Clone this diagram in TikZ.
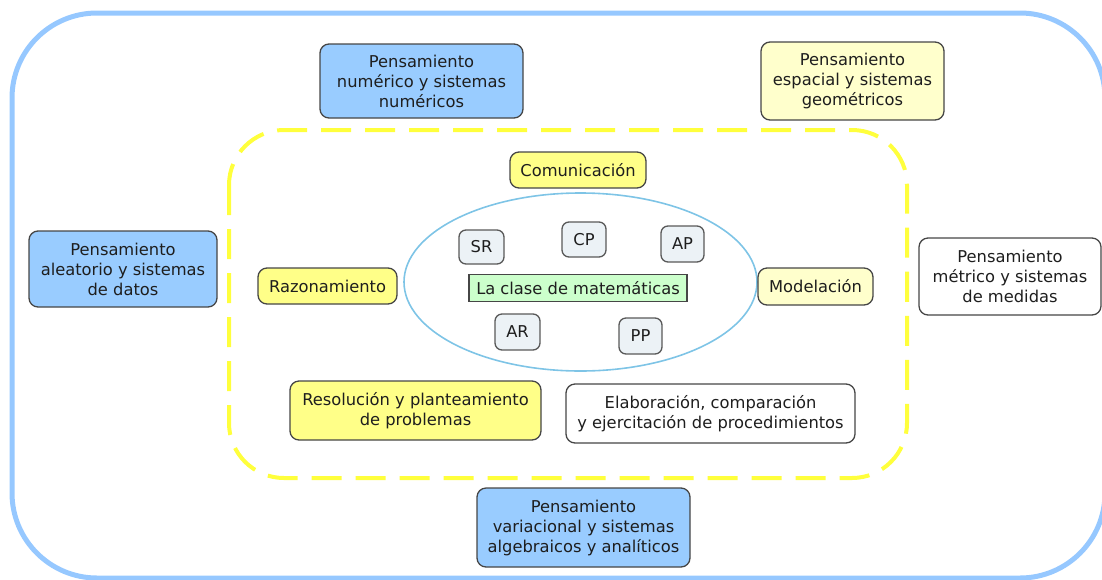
\documentclass[tikz,border=0pt]{standalone}
\usepackage{fontspec}
\setmainfont{DejaVu Sans}
\usetikzlibrary{shapes.geometric}
\definecolor{outerblue}{RGB}{150,200,255}
\definecolor{dashyellow}{RGB}{255,255,60}
\definecolor{fillblue}{RGB}{153,204,255}
\definecolor{fillpale}{RGB}{255,255,204}
\definecolor{fillyellow}{RGB}{255,255,136}
\definecolor{fillgray}{RGB}{236,242,246}
\definecolor{fillgreen}{RGB}{204,255,204}
\definecolor{ellblue}{RGB}{126,196,230}
\definecolor{bordergray}{RGB}{70,70,70}
\definecolor{txt}{RGB}{30,30,30}
\tikzset{
  base/.style={draw=bordergray, line width=1.3pt, rounded corners=9pt, align=center,
    inner sep=0pt, text=txt, font=\fontsize{16.3}{20}\selectfont},
  bluebox/.style={base, fill=fillblue},
  palebox/.style={base, fill=fillpale},
  yelbox/.style={base, fill=fillyellow},
  whitebox/.style={base, fill=white},
  smallbox/.style={base, fill=fillgray, draw=bordergray!90, rounded corners=7pt},
  classbox/.style={draw=bordergray, line width=1.2pt, fill=fillgreen, inner sep=0pt,
    text=txt, font=\fontsize{16.3}{20}\selectfont},
}
\begin{document}
\begin{tikzpicture}[x=1pt,y=-1pt]
\useasboundingbox (0,0) rectangle (1102,579);
\begin{scope}
\clip (0,0) rectangle (1102,579);
\draw[outerblue, line width=5pt, rounded corners=85pt] (12,13) rectangle (1105,578);
\end{scope}
\draw[dashyellow, line width=4pt, dash pattern=on 30pt off 14pt, rounded corners=55pt] (229,130) rectangle (907,478);
\node[draw=ellblue, line width=1.6pt, ellipse, minimum width=353pt, minimum height=178pt, inner sep=0pt] (ell) at (580.5,282) {};

\node[bluebox, minimum width=203pt, minimum height=74pt] (num) at (421.5,81) {Pensamiento\\numérico y sistemas\\numéricos};
\node[palebox, minimum width=183pt, minimum height=78pt] (esp) at (852.5,81) {Pensamiento\\espacial y sistemas\\geométricos};
\node[bluebox, minimum width=188pt, minimum height=76pt] (ale) at (123,269) {Pensamiento\\aleatorio y sistemas\\de datos};
\node[yelbox, minimum width=139pt, minimum height=36pt] (raz) at (327.5,286) {Razonamiento};
\node[yelbox, minimum width=136pt, minimum height=36pt] (com) at (578,170) {Comunicación};
\node[palebox, minimum width=115pt, minimum height=37pt] (mod) at (815.5,286.5) {Modelación};
\node[whitebox, minimum width=182pt, minimum height=77pt] (met) at (1010,276.5) {Pensamiento\\métrico y sistemas\\de medidas};
\node[yelbox, minimum width=251pt, minimum height=59pt] (res) at (415.5,410.5) {Resolución y planteamiento\\de problemas};
\node[whitebox, minimum width=289pt, minimum height=59pt] (ela) at (710.5,413.5) {Elaboración, comparación\\y ejercitación de procedimientos};
\node[bluebox, minimum width=213pt, minimum height=79pt] (var) at (583.5,527.5) {Pensamiento\\variacional y sistemas\\algebraicos y analíticos};

\node[smallbox, minimum width=45pt, minimum height=34pt] (sr) at (481.5,247) {SR};
\node[smallbox, minimum width=44pt, minimum height=35pt] (cp) at (584,239.5) {CP};
\node[smallbox, minimum width=43pt, minimum height=36pt] (ap) at (682.5,244) {AP};
\node[smallbox, minimum width=45pt, minimum height=36pt] (ar) at (517.5,332) {AR};
\node[smallbox, minimum width=43pt, minimum height=36pt] (pp) at (640.5,336) {PP};
\node[classbox, minimum width=218pt, minimum height=27pt] (clase) at (578,288) {La clase de matemáticas};
\end{tikzpicture}
\end{document}
